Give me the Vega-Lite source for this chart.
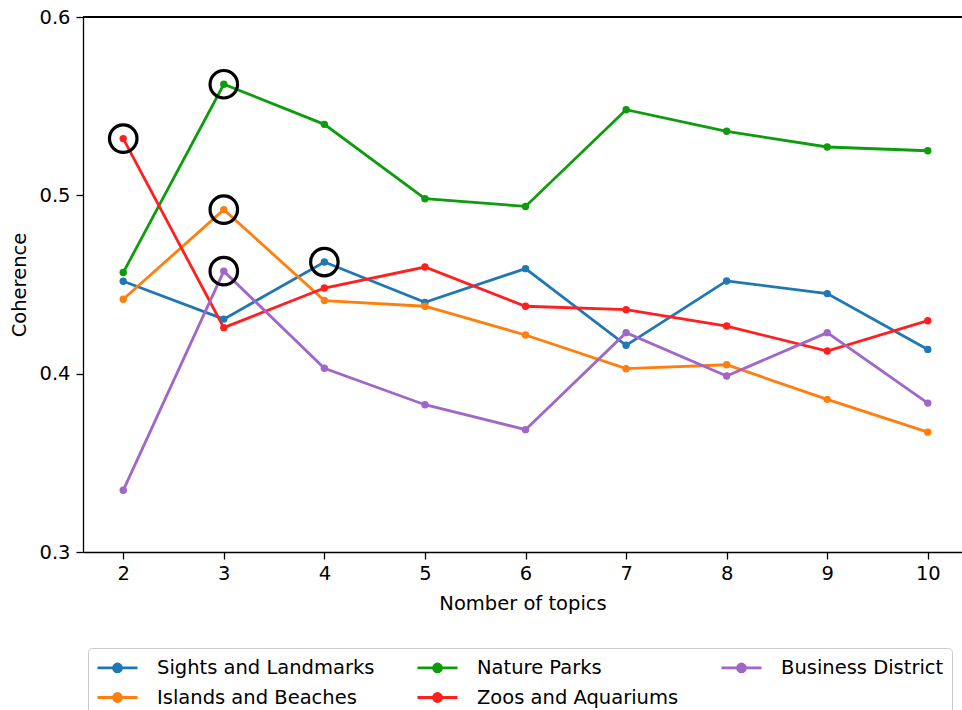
{
  "$schema": "https://vega.github.io/schema/vega-lite/v6.json",
  "autosize": {"type": "none"},
  "padding": {"left": 83, "top": 17, "right": 0, "bottom": 158},
  "width": 879,
  "height": 535,
  "background": "white",
  "config": {
    "font": "DejaVu Sans",
    "view": {"stroke": null},
    "axis": {
      "grid": false,
      "domainColor": "black",
      "domainWidth": 1.3,
      "tickColor": "black",
      "tickWidth": 1.3,
      "tickSize": 7,
      "labelColor": "black",
      "titleColor": "black",
      "labelFontSize": 19.5,
      "titleFontSize": 19.5,
      "titleFontWeight": "normal",
      "labelFont": "DejaVu Sans",
      "titleFont": "DejaVu Sans"
    }
  },
  "data": {
    "values": [
      {"topics": 2, "category": "Sights and Landmarks", "coherence": 0.4518},
      {"topics": 3, "category": "Sights and Landmarks", "coherence": 0.4306},
      {"topics": 4, "category": "Sights and Landmarks", "coherence": 0.4626},
      {"topics": 5, "category": "Sights and Landmarks", "coherence": 0.4400},
      {"topics": 6, "category": "Sights and Landmarks", "coherence": 0.4589},
      {"topics": 7, "category": "Sights and Landmarks", "coherence": 0.4159},
      {"topics": 8, "category": "Sights and Landmarks", "coherence": 0.4520},
      {"topics": 9, "category": "Sights and Landmarks", "coherence": 0.4449},
      {"topics": 10, "category": "Sights and Landmarks", "coherence": 0.4136},
      {"topics": 2, "category": "Islands and Beaches", "coherence": 0.4417},
      {"topics": 3, "category": "Islands and Beaches", "coherence": 0.4920},
      {"topics": 4, "category": "Islands and Beaches", "coherence": 0.4410},
      {"topics": 5, "category": "Islands and Beaches", "coherence": 0.4378},
      {"topics": 6, "category": "Islands and Beaches", "coherence": 0.4217},
      {"topics": 7, "category": "Islands and Beaches", "coherence": 0.4028},
      {"topics": 8, "category": "Islands and Beaches", "coherence": 0.4050},
      {"topics": 9, "category": "Islands and Beaches", "coherence": 0.3856},
      {"topics": 10, "category": "Islands and Beaches", "coherence": 0.3672},
      {"topics": 2, "category": "Nature Parks", "coherence": 0.4567},
      {"topics": 3, "category": "Nature Parks", "coherence": 0.5623},
      {"topics": 4, "category": "Nature Parks", "coherence": 0.5398},
      {"topics": 5, "category": "Nature Parks", "coherence": 0.4981},
      {"topics": 6, "category": "Nature Parks", "coherence": 0.4938},
      {"topics": 7, "category": "Nature Parks", "coherence": 0.5480},
      {"topics": 8, "category": "Nature Parks", "coherence": 0.5359},
      {"topics": 9, "category": "Nature Parks", "coherence": 0.5271},
      {"topics": 10, "category": "Nature Parks", "coherence": 0.5250},
      {"topics": 2, "category": "Zoos and Aquariums", "coherence": 0.5318},
      {"topics": 3, "category": "Zoos and Aquariums", "coherence": 0.4258},
      {"topics": 4, "category": "Zoos and Aquariums", "coherence": 0.4480},
      {"topics": 5, "category": "Zoos and Aquariums", "coherence": 0.4598},
      {"topics": 6, "category": "Zoos and Aquariums", "coherence": 0.4378},
      {"topics": 7, "category": "Zoos and Aquariums", "coherence": 0.4359},
      {"topics": 8, "category": "Zoos and Aquariums", "coherence": 0.4267},
      {"topics": 9, "category": "Zoos and Aquariums", "coherence": 0.4127},
      {"topics": 10, "category": "Zoos and Aquariums", "coherence": 0.4297},
      {"topics": 2, "category": "Business District", "coherence": 0.3346},
      {"topics": 3, "category": "Business District", "coherence": 0.4575},
      {"topics": 4, "category": "Business District", "coherence": 0.4030},
      {"topics": 5, "category": "Business District", "coherence": 0.3826},
      {"topics": 6, "category": "Business District", "coherence": 0.3686},
      {"topics": 7, "category": "Business District", "coherence": 0.4230},
      {"topics": 8, "category": "Business District", "coherence": 0.3987},
      {"topics": 9, "category": "Business District", "coherence": 0.4230},
      {"topics": 10, "category": "Business District", "coherence": 0.3835}
    ]
  },
  "layer": [
    {
      "mark": {"type": "rule", "color": "black", "strokeWidth": 1.3},
      "encoding": {"y": {"datum": 0.6, "type": "quantitative"}}
    },
    {
      "mark": {"type": "line", "strokeWidth": 2.8, "point": {"filled": true, "size": 55, "opacity": 1}},
      "encoding": {
        "x": {
          "field": "topics", "type": "quantitative",
          "scale": {"domain": [1.6, 10.34], "nice": false, "zero": false},
          "axis": {"values": [2, 3, 4, 5, 6, 7, 8, 9, 10], "format": "d", "title": "Nomber of topics", "labelPadding": 5, "titlePadding": 12}
        },
        "y": {
          "field": "coherence", "type": "quantitative",
          "scale": {"domain": [0.3, 0.6], "nice": false, "zero": false},
          "axis": {"values": [0.3, 0.4, 0.5, 0.6], "format": ".1f", "title": "Coherence", "labelPadding": 6, "titlePadding": 9}
        },
        "color": {
          "field": "category", "type": "nominal",
          "scale": {
            "domain": ["Sights and Landmarks", "Nature Parks", "Business District", "Islands and Beaches", "Zoos and Aquariums"],
            "range": ["#1f77b4", "#0c9c0c", "#a066c8", "#ff7f0e", "#ff1f1f"]
          },
          "legend": {
            "title": null,
            "orient": "none",
            "legendX": 5,
            "legendY": 631,
            "columns": 3,
            "direction": "horizontal",
            "symbolType": "M-1,0H3M0.6,0A0.4,0.4,0,1,1,1.4,0A0.4,0.4,0,1,1,0.6,0",
            "symbolSize": 400,
            "symbolStrokeWidth": 2.8,
            "labelFontSize": 19.5,
            "labelColor": "black",
            "labelOffset": 38,
            "columnPadding": 36,
            "rowPadding": 8,
            "padding": 8,
            "strokeColor": "#cccccc",
            "fillColor": "white",
            "cornerRadius": 4,
            "labelLimit": 400,
            "encode": {
              "symbols": {"update": {"fill": {"scale": "color", "field": "value"}, "stroke": {"scale": "color", "field": "value"}, "fillOpacity": {"value": 1}, "opacity": {"value": 1}}}
            }
          }
        }
      }
    },
    {
      "transform": [
        {"joinaggregate": [{"op": "max", "field": "coherence", "as": "maxc"}], "groupby": ["category"]},
        {"filter": "datum.coherence == datum.maxc"}
      ],
      "mark": {"type": "point", "shape": "circle", "filled": false, "size": 756, "stroke": "black", "strokeWidth": 3.2, "opacity": 1},
      "encoding": {
        "x": {"field": "topics", "type": "quantitative"},
        "y": {"field": "coherence", "type": "quantitative"}
      }
    }
  ]
}
